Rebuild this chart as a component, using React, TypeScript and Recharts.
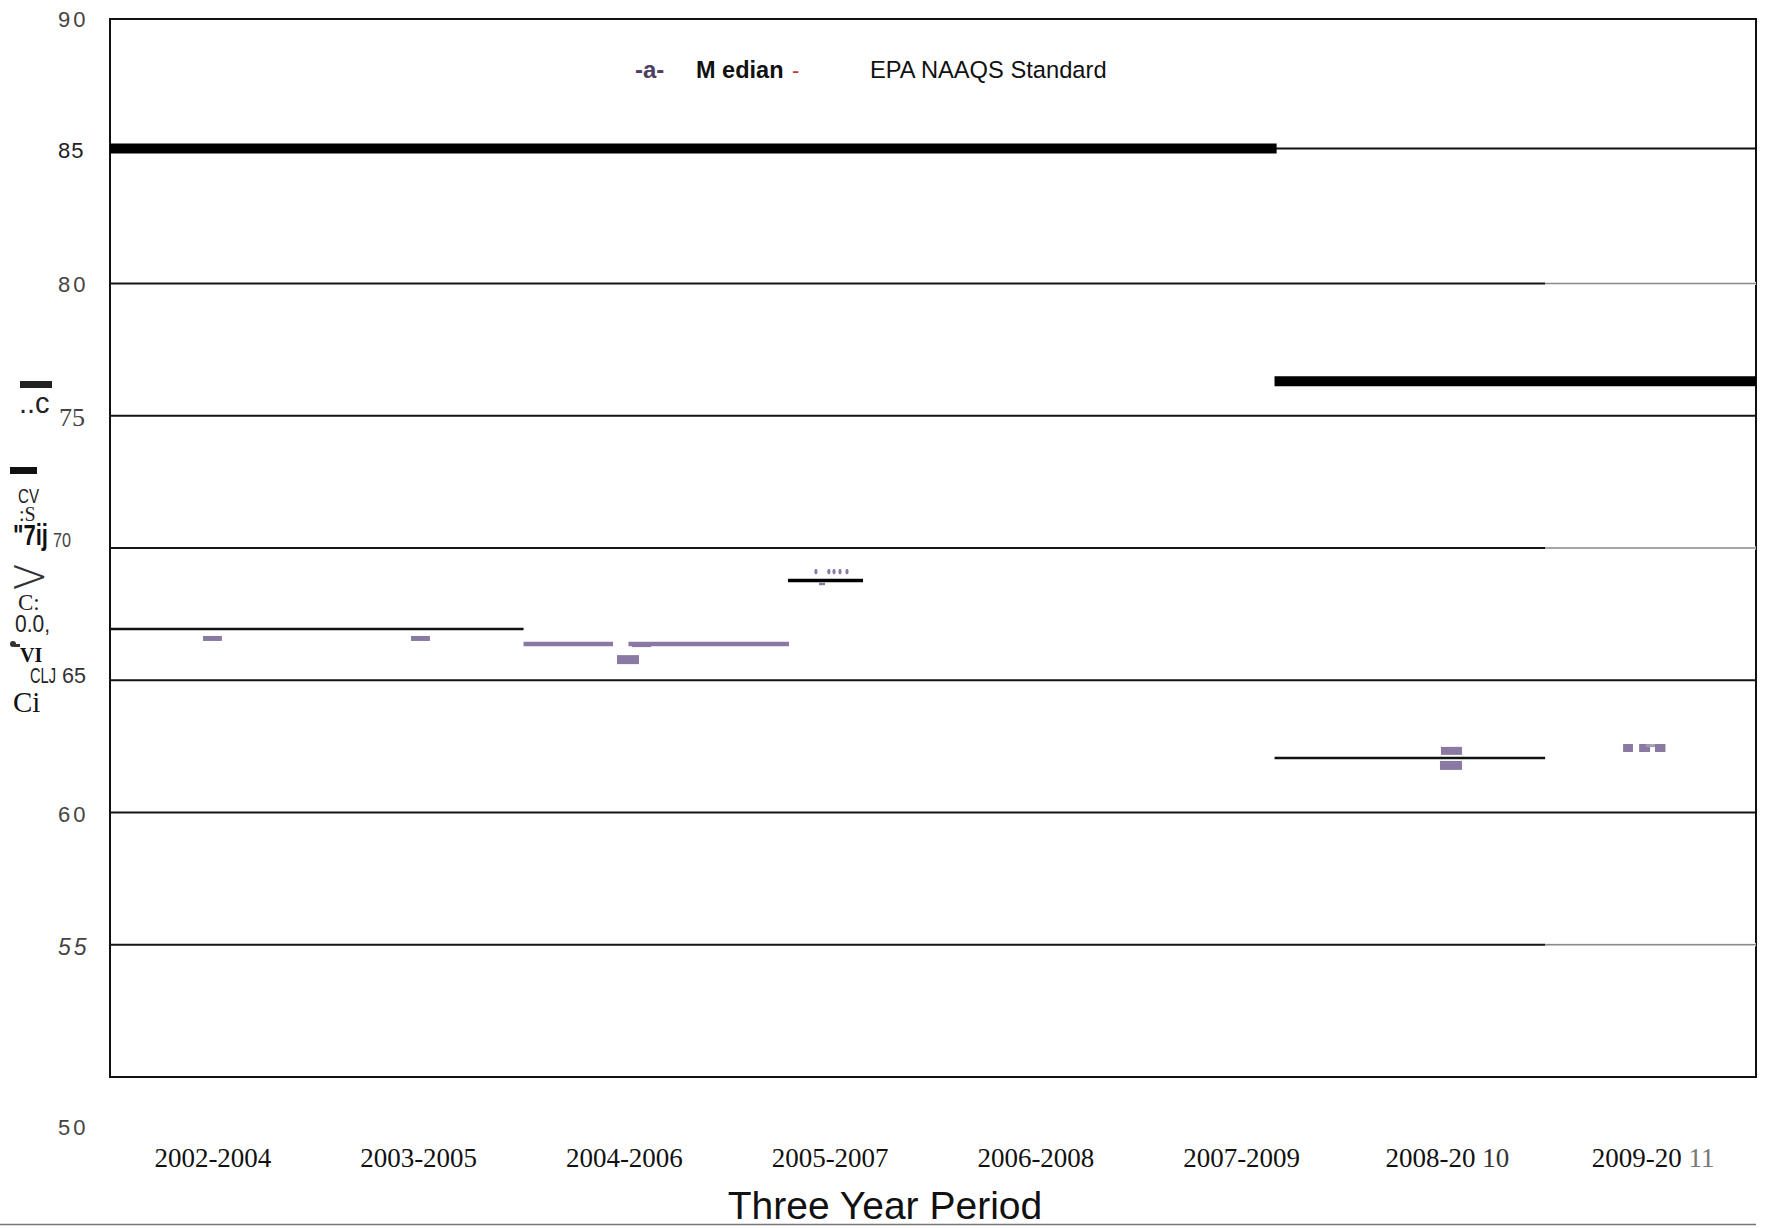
import React from "react";
import {
  ComposedChart,
  XAxis,
  YAxis,
  Line,
  CartesianGrid,
  ReferenceArea,
  Legend,
  Label,
} from "recharts";

const SANS = '"Liberation Sans", Arial, sans-serif';
const SERIF = '"Liberation Serif", "Times New Roman", serif';
const PURPLE = "#8a7aa3";

// ---- categories & ticks ----
const periods = [
  "2002-2004",
  "2003-2005",
  "2004-2006",
  "2005-2007",
  "2006-2008",
  "2007-2009",
  "2008-20 10",
  "2009-20 11",
];
const periodTicks = [0.5, 1.5, 2.5, 3.5, 4.5, 5.5, 6.5, 7.5];
const yTicks = [50, 55, 60, 65, 70, 75, 80, 85, 90];
const gridValues = [55, 60, 65, 70, 75, 80];

// ---- EPA NAAQS standard (ppb) ----
const naaqsStandard = [
  { x: 0, y: 85.1 },
  { x: 5.67, y: 85.1 },
  { x: 5.67, y: null },
  { x: 5.66, y: 76.3 },
  { x: 8, y: 76.3 },
];
const standardThin = [
  { x: 0, y: 85.1 },
  { x: 8, y: 85.1 },
];

// ---- median (black) segments ----
const medianEarly = [
  { x: 0, y: 66.94 },
  { x: 2.01, y: 66.94 },
];
const median2005 = [
  { x: 3.295, y: 68.77 },
  { x: 3.66, y: 68.77 },
];
const medianLate = [
  { x: 5.66, y: 62.06 },
  { x: 6.975, y: 62.06 },
];

// ---- site medians (purple) ----
const site2002 = [
  { x: 0.452, y: 66.58 },
  { x: 0.544, y: 66.58 },
];
const site2003 = [
  { x: 1.463, y: 66.58 },
  { x: 1.555, y: 66.58 },
];
const site2004Line = [
  { x: 2.01, y: 66.37 },
  { x: 2.445, y: 66.37 },
  { x: 2.445, y: null },
  { x: 2.52, y: 66.37 },
  { x: 3.3, y: 66.37 },
];
const site2004Tick = [
  { x: 2.537, y: 66.31 },
  { x: 2.63, y: 66.31 },
];
const site2004Block = [
  { x: 2.464, y: 65.78 },
  { x: 2.571, y: 65.78 },
];
const site2005Dots = [
  { x: 3.431, y: 69.11 },
  { x: 3.494, y: 69.11 },
  { x: 3.519, y: 69.11 },
  { x: 3.548, y: 69.11 },
  { x: 3.582, y: 69.11 },
];
const site2005Tick = [
  { x: 3.446, y: 68.64 },
  { x: 3.475, y: 68.64 },
];
const site2008Upper = [
  { x: 6.469, y: 62.33 },
  { x: 6.571, y: 62.33 },
];
const site2008Lower = [
  { x: 6.464, y: 61.78 },
  { x: 6.571, y: 61.78 },
];
const site2009Blocks = [
  { x: 7.354, y: 62.44 },
  { x: 7.402, y: 62.44 },
  { x: 7.402, y: null },
  { x: 7.432, y: 62.44 },
  { x: 7.485, y: 62.44 },
  { x: 7.485, y: null },
  { x: 7.509, y: 62.44 },
  { x: 7.56, y: 62.44 },
];
const site2009Gap = [
  { x: 7.465, y: 62.53 },
  { x: 7.509, y: 62.53 },
];

// ---- faded right-hand part of some gridlines ----
const fadedGrid80 = [
  { x: 6.975, y: 80 },
  { x: 8, y: 80 },
];
const fadedGrid70 = [
  { x: 6.975, y: 70 },
  { x: 8, y: 70 },
];
const fadedGrid55 = [
  { x: 6.975, y: 55 },
  { x: 8, y: 55 },
];

type TickStyle = {
  x: number;
  dy: number;
  size: number;
  family: string;
  italic?: boolean;
  spacing?: number;
  len?: number;
  color?: string;
};

const yTickStyle: Record<number, TickStyle> = {
  90: { x: 58, dy: 8, size: 22, family: SANS, spacing: 3 },
  85: { x: 58, dy: 7, size: 22, family: SANS, spacing: 1, color: "#222" },
  80: { x: 58, dy: 8.5, size: 22, family: SANS, spacing: 3 },
  75: { x: 59, dy: 10, size: 26, family: SERIF },
  70: { x: 53, dy: -1, size: 20, family: SANS, len: 18 },
  65: { x: 62, dy: 3, size: 22, family: SANS, len: 24, color: "#333" },
  60: { x: 58, dy: 9.5, size: 22, family: SANS, spacing: 3 },
  55: { x: 58, dy: 10, size: 23, family: SANS, italic: true, spacing: 3 },
  50: { x: 58, dy: 58, size: 22, family: SANS, spacing: 3 },
};

const YTick = (props: any) => {
  const { y, payload } = props;
  const s = yTickStyle[payload.value];
  if (!s) return null;
  return (
    <text
      x={s.x}
      y={y + s.dy}
      fontFamily={s.family}
      fontSize={s.size}
      fontStyle={s.italic ? "italic" : "normal"}
      letterSpacing={s.spacing ?? 0}
      textLength={s.len}
      lengthAdjust={s.len ? "spacingAndGlyphs" : undefined}
      fill={s.color ?? "#444"}
    >
      {String(payload.value)}
    </text>
  );
};

const XTick = (props: any) => {
  const { x, payload } = props;
  const idx = Math.floor(payload.value);
  const label = periods[idx] ?? "";
  const parts = label.split(" ");
  return (
    <text
      x={x}
      y={1167}
      textAnchor="middle"
      fontFamily={SERIF}
      fontSize={27}
      fill="#111"
    >
      {parts.length > 1 ? parts[0] + " " : parts[0]}
      {parts.length > 1 ? (
        <tspan fill={idx === 7 ? "#777" : "#333"}>{parts[1]}</tspan>
      ) : null}
    </text>
  );
};

const renderYLabel = () => (
  <g>
    <rect x={20} y={381} width={32} height={7} fill="#222" />
    <text x={19} y={413} fontFamily={SANS} fontSize={29} fill="#222">
      ..c
    </text>
    <rect x={10} y={467} width={27} height={7} fill="#111" />
    <text
      x={18}
      y={503}
      fontFamily={SANS}
      fontSize={21}
      textLength={21}
      lengthAdjust="spacingAndGlyphs"
      fill="#222"
    >
      CV
    </text>
    <text x={19} y={521} fontFamily={SERIF} fontSize={20} fill="#222">
      :S
    </text>
    <text
      x={13}
      y={545}
      fontFamily={SANS}
      fontWeight="bold"
      fontSize={29}
      textLength={35}
      lengthAdjust="spacingAndGlyphs"
      fill="#111"
    >
      "7ij
    </text>
    <text
      x={9}
      y={592}
      fontFamily={'"DejaVu Sans", sans-serif'}
      fontWeight={200}
      fontSize={48}
      fill="#333"
    >
      &gt;
    </text>
    <text x={18} y={610} fontFamily={SERIF} fontSize={23} fill="#222">
      C:
    </text>
    <text
      x={15}
      y={632}
      fontFamily={SANS}
      fontSize={23}
      textLength={35}
      lengthAdjust="spacingAndGlyphs"
      fill="#222"
    >
      0.0,
    </text>
    <circle cx={13} cy={644} r={3} fill="#333" />
    <rect x={14} y={644} width={6} height={3} fill="#333" />
    <text
      x={20}
      y={662}
      fontFamily={SERIF}
      fontWeight="bold"
      fontSize={20}
      fill="#111"
    >
      VI
    </text>
    <text
      x={30}
      y={683}
      fontFamily={SANS}
      fontSize={22}
      textLength={26}
      lengthAdjust="spacingAndGlyphs"
      fill="#222"
    >
      CLJ
    </text>
    <text x={13} y={712} fontFamily={SERIF} fontSize={29} fill="#111">
      Ci
    </text>
  </g>
);

const renderTitle = () => (
  <g>
    <text
      x={885}
      y={1219}
      textAnchor="middle"
      fontFamily={SANS}
      fontSize={39}
      fill="#111"
    >
      Three Year Period
    </text>
    <line
      x1={0}
      x2={1756}
      y1={1224.5}
      y2={1224.5}
      stroke="#777"
      strokeWidth={1.5}
    />
  </g>
);

const renderLegend = () => (
  <div style={{ position: "relative", height: 0 }}>
    <svg
      width={1765}
      height={100}
      style={{ position: "absolute", left: 0, top: 0, overflow: "visible" }}
    >
      <text
        x={635}
        y={78}
        fontFamily={SANS}
        fontWeight="bold"
        fontSize={24}
        fill="#4e3f63"
      >
        -a-
      </text>
      <text
        x={696}
        y={78}
        fontFamily={SANS}
        fontWeight="bold"
        fontSize={23.5}
        fill="#111"
      >
        M edian
      </text>
      <text x={792} y={78} fontFamily={SANS} fontSize={22} fill="#c0392b">
        -
      </text>
      <text x={870} y={78} fontFamily={SANS} fontSize={23.7} fill="#111">
        EPA NAAQS Standard
      </text>
    </svg>
  </div>
);

const EllipseDot = (props: any) => {
  const { cx, cy } = props;
  if (cx == null || cy == null) return null;
  return <ellipse cx={cx} cy={cy} rx={1.6} ry={2.7} fill={PURPLE} />;
};

export default function App() {
  const seg = (
    key: string,
    data: any[],
    color: string,
    width: number
  ) => (
    <Line
      key={key}
      data={data}
      dataKey="y"
      stroke={color}
      strokeWidth={width}
      strokeLinecap="butt"
      dot={false}
      activeDot={false}
      connectNulls={false}
      isAnimationActive={false}
      legendType="none"
    />
  );

  return (
    <div style={{ position: "absolute", left: 0, top: 0 }}>
      <ComposedChart
        width={1765}
        height={1228}
        margin={{ top: 19, right: 9, bottom: 0, left: 0 }}
      >
        <CartesianGrid
          vertical={false}
          horizontalValues={gridValues}
          stroke="#151515"
          strokeWidth={2}
        />
        <XAxis
          type="number"
          dataKey="x"
          domain={[0, 8]}
          allowDataOverflow
          ticks={periodTicks}
          interval={0}
          height={151}
          axisLine={false}
          tickLine={false}
          tick={<XTick />}
        >
          <Label content={renderTitle} />
        </XAxis>
        <YAxis
          type="number"
          domain={[50, 90]}
          allowDataOverflow
          ticks={yTicks}
          interval={0}
          width={110}
          axisLine={false}
          tickLine={false}
          tick={<YTick />}
        >
          <Label content={renderYLabel} />
        </YAxis>
        <Legend
          verticalAlign="top"
          content={renderLegend}
          wrapperStyle={{
            position: "absolute",
            top: 0,
            left: 0,
            width: 1765,
            height: 0,
            margin: 0,
          }}
        />
        {seg("fg80w", fadedGrid80, "#ffffff", 3)}
        {seg("fg70w", fadedGrid70, "#ffffff", 3)}
        {seg("fg55w", fadedGrid55, "#ffffff", 3)}
        {seg("fg80", fadedGrid80, "#8a8a8a", 1.5)}
        {seg("fg70", fadedGrid70, "#8a8a8a", 1.5)}
        {seg("fg55", fadedGrid55, "#8a8a8a", 1.5)}
        {seg("stdThin", standardThin, "#111", 2)}
        {seg("std", naaqsStandard, "#000", 10)}
        {seg("medEarly", medianEarly, "#111", 2.5)}
        {seg("med2005", median2005, "#000", 3.5)}
        {seg("medLate", medianLate, "#111", 2.5)}
        {seg("s2002", site2002, PURPLE, 5)}
        {seg("s2003", site2003, PURPLE, 5)}
        {seg("s2004l", site2004Line, PURPLE, 4.5)}
        {seg("s2004t", site2004Tick, PURPLE, 3)}
        {seg("s2004b", site2004Block, PURPLE, 9)}
        {seg("s2005t", site2005Tick, PURPLE, 2.5)}
        {seg("s2008u", site2008Upper, PURPLE, 8)}
        {seg("s2008l", site2008Lower, PURPLE, 9)}
        {seg("s2009", site2009Blocks, PURPLE, 8)}
        {seg("s2009g", site2009Gap, "#a39db3", 3)}
        <Line
          data={site2005Dots}
          dataKey="y"
          stroke="none"
          dot={<EllipseDot />}
          activeDot={false}
          isAnimationActive={false}
          legendType="none"
        />
        <ReferenceArea
          x1={0}
          x2={8}
          y1={50}
          y2={90}
          fill="none"
          fillOpacity={0}
          stroke="#111"
          strokeWidth={2}
        />
      </ComposedChart>
    </div>
  );
}
